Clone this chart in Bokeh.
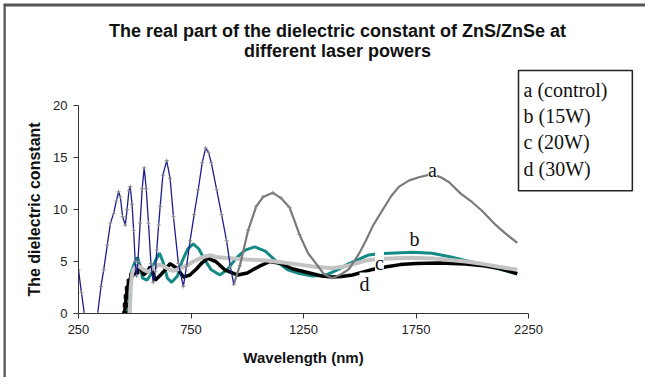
import numpy as np
from bokeh.plotting import figure
from bokeh.models import Range1d, Label, FixedTicker
from bokeh.embed import file_html
from bokeh.resources import INLINE

# ---------------- data ----------------
x_ticks = [250, 750, 1250, 1750, 2250]
y_ticks = [0, 5, 10, 15, 20]

a_x = [250, 263, 276, 290, 320, 335, 350, 362, 378, 392, 406, 418, 428, 436, 446,
       458, 466, 474, 480, 488, 495, 502, 508, 514, 524, 533, 542, 551, 561, 572,
       582, 592, 598, 606, 613, 625, 642, 657, 672, 694, 716, 730, 746, 764, 782,
       800, 815, 828, 840, 864, 886, 908, 925, 940, 967, 1004, 1040, 1070, 1114, 1150,
       1188, 1232, 1270, 1306, 1340, 1378, 1420, 1453, 1498, 1527, 1560, 1600, 1640, 1675, 1720,
       1763, 1820, 1860, 1896, 1950, 2000, 2042, 2100, 2147, 2200]
a_y = [4.2, 2.0, 0.0, -2.0, -2.0, 0.0, 2.6, 4.2, 6.6, 8.7, 9.6, 10.8, 11.7, 11.2, 9.3,
       8.5, 10.0, 11.8, 12.2, 10.5, 8.0, 5.0, 3.6, 5.0, 8.7, 12.0, 14.0, 12.0, 8.7, 4.8,
       3.0, 4.0, 6.1, 8.5, 10.3, 13.3, 14.7, 13.0, 9.3, 4.8, 2.6, 4.5, 7.0, 9.5, 11.9,
       14.5, 15.9, 15.5, 14.5, 11.9, 9.5, 7.0, 4.5, 2.8, 4.6, 8.0, 10.3, 11.2, 11.6, 11.1,
       10.2, 7.6, 5.8, 4.8, 3.8, 3.4, 3.8, 4.3, 5.8, 7.0, 8.5, 9.9, 11.3, 12.2, 12.8,
       13.1, 13.4, 13.1, 12.65, 11.5, 10.7, 9.9, 8.6, 7.7, 6.8]

b_x = [471, 476, 485, 498, 512, 522, 535, 554, 570, 590, 610, 625, 645, 664, 690,
       710, 735, 760, 785, 810, 840, 878, 910, 950, 990, 1033, 1080, 1130, 1180, 1232,
       1290, 1350, 1400, 1453, 1535, 1580, 1631, 1733, 1822, 1900, 1970, 2050, 2117, 2200]
b_y = [0.0, 2.5, 4.0, 4.8, 5.4, 4.7, 3.4, 3.2, 3.7, 5.0, 5.8, 5.0, 3.4, 3.0, 3.6,
       5.0, 6.2, 6.7, 6.2, 5.2, 4.2, 3.7, 4.2, 5.3, 6.1, 6.4, 6.0, 5.0, 4.2, 3.85,
       3.6, 3.7, 4.2, 4.8, 5.6, 5.75, 5.8, 5.9, 5.8, 5.45, 5.1, 4.7, 4.3, 3.8]

c_x = [478, 482, 488, 495, 515, 540, 560, 585, 610, 640, 670, 700, 730, 760, 800,
       834, 870, 937, 1000, 1085, 1160, 1232, 1300, 1378, 1450, 1528, 1580, 1630, 1720, 1822,
       1900, 1970, 2050, 2117, 2200]
c_y = [0.0, 2.5, 3.8, 4.3, 4.6, 4.2, 4.0, 4.4, 4.7, 4.4, 4.1, 4.3, 4.6, 5.0, 5.4,
       5.6, 5.4, 5.3, 5.2, 5.1, 4.9, 4.7, 4.5, 4.35, 4.6, 5.1, 5.25, 5.3, 5.35, 5.3,
       5.15, 5.0, 4.75, 4.5, 4.2]

d_x = [455, 458, 462, 467, 475, 487, 500, 510, 517, 528, 539, 555, 569, 580, 591,
       610, 635, 657, 690, 716, 745, 775, 800, 825, 860, 900, 958, 1000, 1050, 1100,
       1150, 1200, 1277, 1330, 1378, 1420, 1467, 1550, 1620, 1680, 1749, 1850, 1970, 2050, 2117,
       2200]
d_y = [0.0, 0.8, 1.6, 2.4, 3.1, 3.7, 3.9, 4.0, 4.5, 4.3, 3.7, 4.0, 4.5, 4.0, 3.2,
       3.6, 4.2, 4.8, 4.3, 3.5, 3.7, 4.3, 4.9, 5.3, 5.0, 4.2, 3.7, 3.9, 4.5, 5.0,
       4.8, 4.3, 3.9, 3.6, 3.5, 3.55, 3.7, 4.2, 4.5, 4.7, 4.8, 4.85, 4.75, 4.6, 4.35,
       3.85]

legend_text = "a (control)\nb (15W)\nc (20W)\nd (30W)"
title_lines = ["The real part of the dielectric constant of ZnS/ZnSe at",
               "different laser powers"]

# ---------------- layout ----------------
X0, X1, Y0, Y1 = 250, 2250, 0, 20
FL, FR, FT, FB = 78, 528, 105, 313  # frame edges (canvas px)
W, H = 645, 377

def dx(px):
    return X0 + (px - FL) * (X1 - X0) / (FR - FL)

def dy(py):
    return Y0 + (FB - py) * (Y1 - Y0) / (FB - FT)

p = figure(width=W, height=H, output_backend="svg", toolbar_location=None,
           x_range=Range1d(X0, X1), y_range=Range1d(Y0, Y1),
           min_border_left=FL, min_border_right=W - FR,
           min_border_top=FT, min_border_bottom=H - FB)
p.outline_line_color = None
p.xgrid.visible = False
p.ygrid.visible = False
p.background_fill_color = "white"
p.border_fill_color = "white"

for ax in (p.xaxis[0], p.yaxis[0]):
    ax.axis_line_color = "#333333"
    ax.major_tick_line_color = "#333333"
    ax.major_tick_in = 0
    ax.major_tick_out = 5
    ax.minor_tick_line_color = None
    ax.major_label_text_font = "Liberation Sans"
    ax.major_label_text_font_size = "13px"
    ax.major_label_text_color = "#222222"
    ax.axis_label_text_font = "Liberation Sans"
    ax.axis_label_text_font_style = "bold"
    ax.axis_label_text_color = "#111111"

p.xaxis.ticker = FixedTicker(ticks=x_ticks)
p.yaxis.ticker = FixedTicker(ticks=y_ticks)
p.xaxis.axis_label = "Wavelength (nm)"
p.yaxis.axis_label = "The dielectric constant"
p.xaxis.axis_label_text_font_size = "15px"
p.yaxis.axis_label_text_font_size = "16px"
p.xaxis.major_label_standoff = 6
p.yaxis.major_label_standoff = 6
p.xaxis.axis_label_standoff = 12
p.yaxis.axis_label_standoff = 7

ax_ = np.array(a_x, dtype=float)
ay_ = np.array(a_y, dtype=float)

# series b, d, c, a
p.line(b_x, b_y, line_color="#138a84", line_width=3)
dmask = np.array(d_x) <= 520
p.line(d_x, d_y, line_color="black", line_width=3.5)
p.scatter(np.array(d_x)[dmask], np.array(d_y)[dmask], marker="square", size=4,
          color="black")
p.line(c_x, c_y, line_color="#c3c3c3", line_width=4)

navy = ax_ <= 940
grey = ax_ >= 940
p.line(ax_[grey], ay_[grey], line_color="#7a7a7a", line_width=2.2)
p.line(ax_[navy], ay_[navy], line_color="#1c1c8c", line_width=1.3)
mk = ax_ <= 1250
p.scatter(ax_[mk], ay_[mk], marker="cross", size=4, line_color="#8a8a8a", line_width=1)

# inline series labels
serif = "Liberation Serif"
for txt, px, py in [("a", 432, 169), ("b", 414, 238), ("c", 379, 262), ("d", 364, 283)]:
    p.add_layout(Label(x=dx(px), y=dy(py), text=txt, text_font=serif,
                       text_font_size="20px", text_color="#111111",
                       text_align="center", text_baseline="middle",
                       background_fill_color="white", background_fill_alpha=1.0))

# outer frame of the chart: thin left and top edges
p.add_layout(Label(x=4, y=4, x_units="canvas", y_units="canvas", text=" ",
                   text_font_size="1px", text_align="left", text_baseline="top",
                   border_line_color="#555555", border_line_width=2,
                   padding=(0, 0, 0, 390)), "left")
p.add_layout(Label(x=4, y=4, x_units="canvas", y_units="canvas", text=" ",
                   text_font_size="1px", text_align="left", text_baseline="top",
                   border_line_color="#555555", border_line_width=2,
                   padding=(0, 660, 0, 0)), "above")

# title
for i, t in enumerate(title_lines):
    p.add_layout(Label(x=337, y=30 + 20 * i, x_units="canvas", y_units="canvas",
                       text=t,
                       text_font="Liberation Sans", text_font_style="bold",
                       text_font_size="18px", text_color="#111111",
                       text_align="center", text_baseline="middle"), "above")

# legend box (padding order: left, right, top, bottom)
p.add_layout(Label(x=518, y=70, x_units="canvas", y_units="canvas",
                   text=legend_text,
                   text_font=serif, text_font_size="20px", text_color="#111111",
                   text_align="left", text_baseline="top",
                   border_line_color="#222222", border_line_width=1.5,
                   background_fill_color="white",
                   padding=(5, 25, 8, 11)), "right")

open("out.html", "w").write(file_html(p, INLINE))
